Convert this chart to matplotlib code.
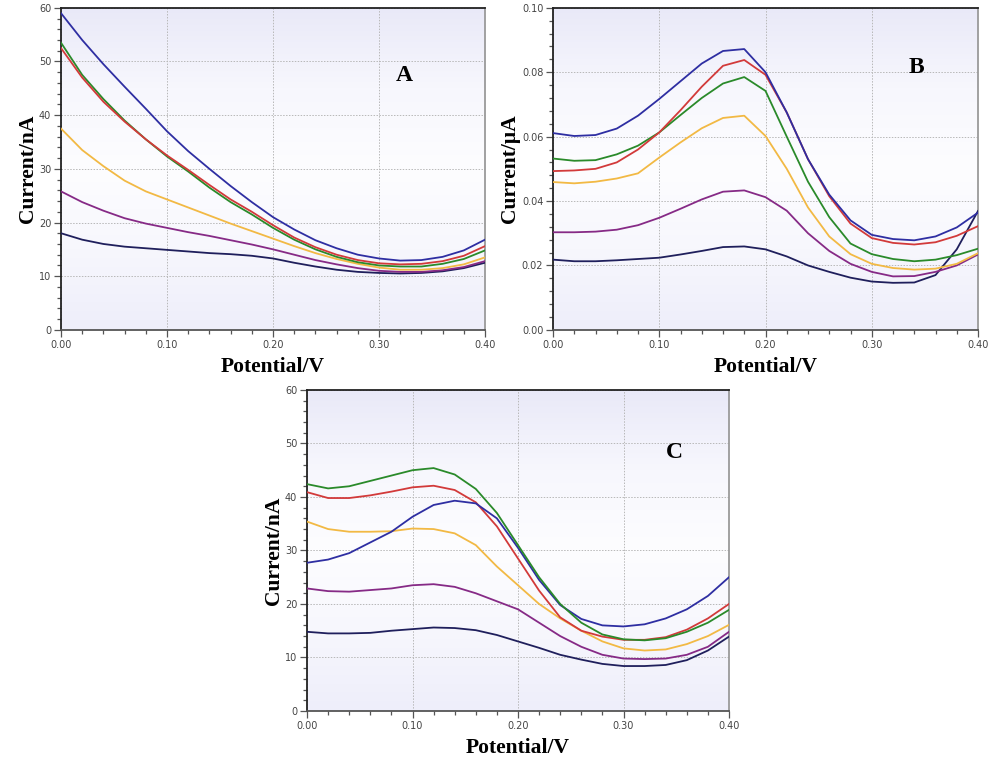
import numpy as np
import matplotlib
matplotlib.use("Agg")
import matplotlib.pyplot as plt
from matplotlib.ticker import MultipleLocator, FormatStrFormatter
from matplotlib.colors import LinearSegmentedColormap

# ---------------- data ----------------
potential = [0.00, 0.02, 0.04, 0.06, 0.08, 0.10, 0.12, 0.14, 0.16, 0.18, 0.20,
             0.22, 0.24, 0.26, 0.28, 0.30, 0.32, 0.34, 0.36, 0.38, 0.40]

# Panel A (nA)
a_blue   = [59.0, 54.0, 49.5, 45.3, 41.2, 37.0, 33.3, 30.0, 26.8, 23.8, 21.0,
            18.7, 16.7, 15.2, 14.0, 13.3, 12.9, 13.0, 13.6, 14.8, 16.8]
a_red    = [52.5, 47.0, 42.5, 38.8, 35.5, 32.5, 29.8, 27.0, 24.3, 22.0, 19.5,
            17.2, 15.4, 14.0, 13.0, 12.4, 12.2, 12.3, 12.8, 13.8, 15.6]
a_green  = [53.5, 47.5, 43.0, 39.0, 35.5, 32.3, 29.5, 26.5, 23.8, 21.5, 19.0,
            16.8, 15.0, 13.6, 12.6, 12.0, 11.8, 11.8, 12.3, 13.2, 14.8]
a_orange = [37.5, 33.5, 30.5, 27.8, 25.8, 24.3, 22.8, 21.3, 19.8, 18.4, 17.0,
            15.6, 14.3, 13.2, 12.3, 11.6, 11.2, 11.2, 11.5, 12.2, 13.5]
a_purple = [25.8, 23.8, 22.2, 20.8, 19.8, 19.0, 18.2, 17.5, 16.7, 15.9, 15.0,
            14.0, 13.0, 12.2, 11.5, 11.0, 10.8, 10.8, 11.1, 11.7, 12.8]
a_navy   = [18.0, 16.8, 16.0, 15.5, 15.2, 14.9, 14.6, 14.3, 14.1, 13.8, 13.3,
            12.5, 11.8, 11.2, 10.8, 10.6, 10.5, 10.6, 10.9, 11.5, 12.5]

# Panel B (uA)
b_blue   = [0.0611, 0.0602, 0.0605, 0.0625, 0.0665, 0.0717, 0.0772, 0.0827, 0.0866, 0.0872, 0.0800,
            0.0675, 0.0530, 0.0420, 0.0340, 0.0295, 0.0282, 0.0278, 0.0290, 0.0318, 0.0364]
b_red    = [0.0493, 0.0495, 0.0500, 0.0520, 0.0560, 0.0613, 0.0682, 0.0755, 0.0820, 0.0838, 0.0792,
            0.0675, 0.0530, 0.0415, 0.0330, 0.0285, 0.0270, 0.0265, 0.0272, 0.0292, 0.0322]
b_green  = [0.0532, 0.0525, 0.0527, 0.0545, 0.0572, 0.0613, 0.0667, 0.0720, 0.0765, 0.0785, 0.0742,
            0.0600, 0.0460, 0.0350, 0.0268, 0.0235, 0.0220, 0.0213, 0.0218, 0.0232, 0.0252]
b_orange = [0.0459, 0.0455, 0.0460, 0.0470, 0.0486, 0.0535, 0.0582, 0.0626, 0.0658, 0.0665, 0.0602,
            0.0500, 0.0380, 0.0290, 0.0235, 0.0205, 0.0192, 0.0187, 0.0190, 0.0205, 0.0238]
b_purple = [0.0303, 0.0303, 0.0305, 0.0311, 0.0325, 0.0348, 0.0376, 0.0405, 0.0429, 0.0433, 0.0412,
            0.0370, 0.0300, 0.0245, 0.0205, 0.0180, 0.0166, 0.0167, 0.0180, 0.0200, 0.0234]
b_navy   = [0.0218, 0.0213, 0.0213, 0.0216, 0.0220, 0.0224, 0.0234, 0.0245, 0.0257, 0.0259, 0.0250,
            0.0228, 0.0200, 0.0180, 0.0162, 0.0150, 0.0146, 0.0147, 0.0170, 0.0250, 0.0369]

# Panel C (nA)
c_green  = [42.4, 41.6, 42.0, 43.0, 44.0, 45.0, 45.4, 44.2, 41.5, 37.0, 31.0,
            25.0, 20.0, 16.5, 14.3, 13.4, 13.2, 13.6, 14.8, 16.5, 18.9]
c_blue   = [27.7, 28.3, 29.5, 31.5, 33.5, 36.3, 38.5, 39.3, 38.8, 36.0, 30.5,
            24.5, 19.8, 17.2, 16.0, 15.8, 16.2, 17.3, 19.0, 21.5, 25.0]
c_red    = [40.9, 39.8, 39.8, 40.3, 41.0, 41.8, 42.1, 41.3, 39.0, 34.5, 28.5,
            22.5, 17.5, 15.0, 13.9, 13.3, 13.3, 13.8, 15.2, 17.3, 20.0]
c_orange = [35.4, 34.0, 33.5, 33.5, 33.6, 34.1, 34.0, 33.2, 31.0, 27.0, 23.5,
            20.0, 17.3, 15.0, 13.0, 11.7, 11.3, 11.5, 12.5, 14.0, 16.1]
c_purple = [22.9, 22.4, 22.3, 22.6, 22.9, 23.5, 23.7, 23.2, 22.0, 20.5, 19.0,
            16.5, 14.0, 12.0, 10.5, 9.8, 9.7, 9.8, 10.5, 12.0, 14.8]
c_navy   = [14.8, 14.5, 14.5, 14.6, 15.0, 15.3, 15.6, 15.5, 15.1, 14.2, 13.0,
            11.8, 10.5, 9.6, 8.8, 8.4, 8.4, 8.6, 9.5, 11.3, 13.9]

x_ticks = [0.00, 0.10, 0.20, 0.30, 0.40]

# ---------------- style ----------------
COL = {"blue": "#2e2ea2", "red": "#d23a3a", "green": "#2a8a2a",
       "orange": "#f2b944", "purple": "#862a86", "navy": "#1f1f5c"}

fig = plt.figure(figsize=(10, 7.6), dpi=100)
fig.patch.set_facecolor("white")

bg_cmap = LinearSegmentedColormap.from_list(
    "bg", ["#e9e9f8", "#f7f7fd", "#fdfdff", "#f7f7fd", "#eeeefa"])


def setup(ax, ymax, ymajor, yminor, yfmt, ylabel, letter, letter_pos):
    ax.set_xlim(0, 0.40)
    ax.set_ylim(0, ymax)
    grad = np.linspace(0, 1, 256).reshape(-1, 1)
    ax.imshow(grad, extent=[0, 1, 0, 1], transform=ax.transAxes,
              cmap=bg_cmap, aspect="auto", zorder=0, origin="upper")
    ax.set_xticks(x_ticks)
    ax.xaxis.set_minor_locator(MultipleLocator(0.02))
    ax.xaxis.set_major_formatter(FormatStrFormatter("%.2f"))
    ax.yaxis.set_major_locator(MultipleLocator(ymajor))
    ax.yaxis.set_minor_locator(MultipleLocator(yminor))
    ax.yaxis.set_major_formatter(FormatStrFormatter(yfmt))
    ax.tick_params(which="both", direction="out", colors="#555555",
                   labelcolor="#444444", labelsize=7, width=0.9)
    ax.tick_params(which="major", length=5, pad=2)
    ax.tick_params(which="minor", length=3)
    ax.grid(True, which="major", color="#b8b8b8", linestyle=(0, (1.5, 1.5)),
            linewidth=0.7, zorder=1)
    for side in ("top", "left"):
        ax.spines[side].set_color("#222222")
        ax.spines[side].set_linewidth(1.3)
    ax.spines["bottom"].set_color("#555555")
    ax.spines["bottom"].set_linewidth(1.3)
    ax.spines["right"].set_color("#9a9a9a")
    ax.spines["right"].set_linewidth(1.3)
    ax.set_xlabel("Potential/V", family="Liberation Serif", fontweight="bold",
                  fontsize=15.5, labelpad=5)
    ax.set_ylabel(ylabel, family="Liberation Serif", fontweight="bold",
                  fontsize=15.5, labelpad=1)
    ax.text(letter_pos[0], letter_pos[1], letter, transform=ax.transAxes,
            family="Liberation Serif", fontweight="bold", fontsize=17,
            ha="center", va="center", zorder=5)


def draw(ax, series):
    for name, ys in series:
        ax.plot(potential, ys, color=COL[name], linewidth=1.3, zorder=3,
                solid_joinstyle="round")


axA = fig.add_axes([0.061, 0.566, 0.424, 0.4237])
setup(axA, 60, 10, 2, "%d", "Current/nA", "A", (0.81, 0.79))
draw(axA, [("navy", a_navy), ("purple", a_purple), ("orange", a_orange),
           ("green", a_green), ("red", a_red), ("blue", a_blue)])

axB = fig.add_axes([0.553, 0.566, 0.425, 0.4237])
setup(axB, 0.10, 0.02, 0.004, "%.2f", "Current/\u03bcA", "B", (0.855, 0.815))
draw(axB, [("navy", b_navy), ("purple", b_purple), ("orange", b_orange),
           ("green", b_green), ("red", b_red), ("blue", b_blue)])

axC = fig.add_axes([0.307, 0.0645, 0.422, 0.4224])
setup(axC, 60, 10, 2, "%d", "Current/nA", "C", (0.87, 0.805))
draw(axC, [("navy", c_navy), ("purple", c_purple), ("orange", c_orange),
           ("red", c_red), ("blue", c_blue), ("green", c_green)])

fig.savefig("out.png", dpi=100, facecolor="white")
